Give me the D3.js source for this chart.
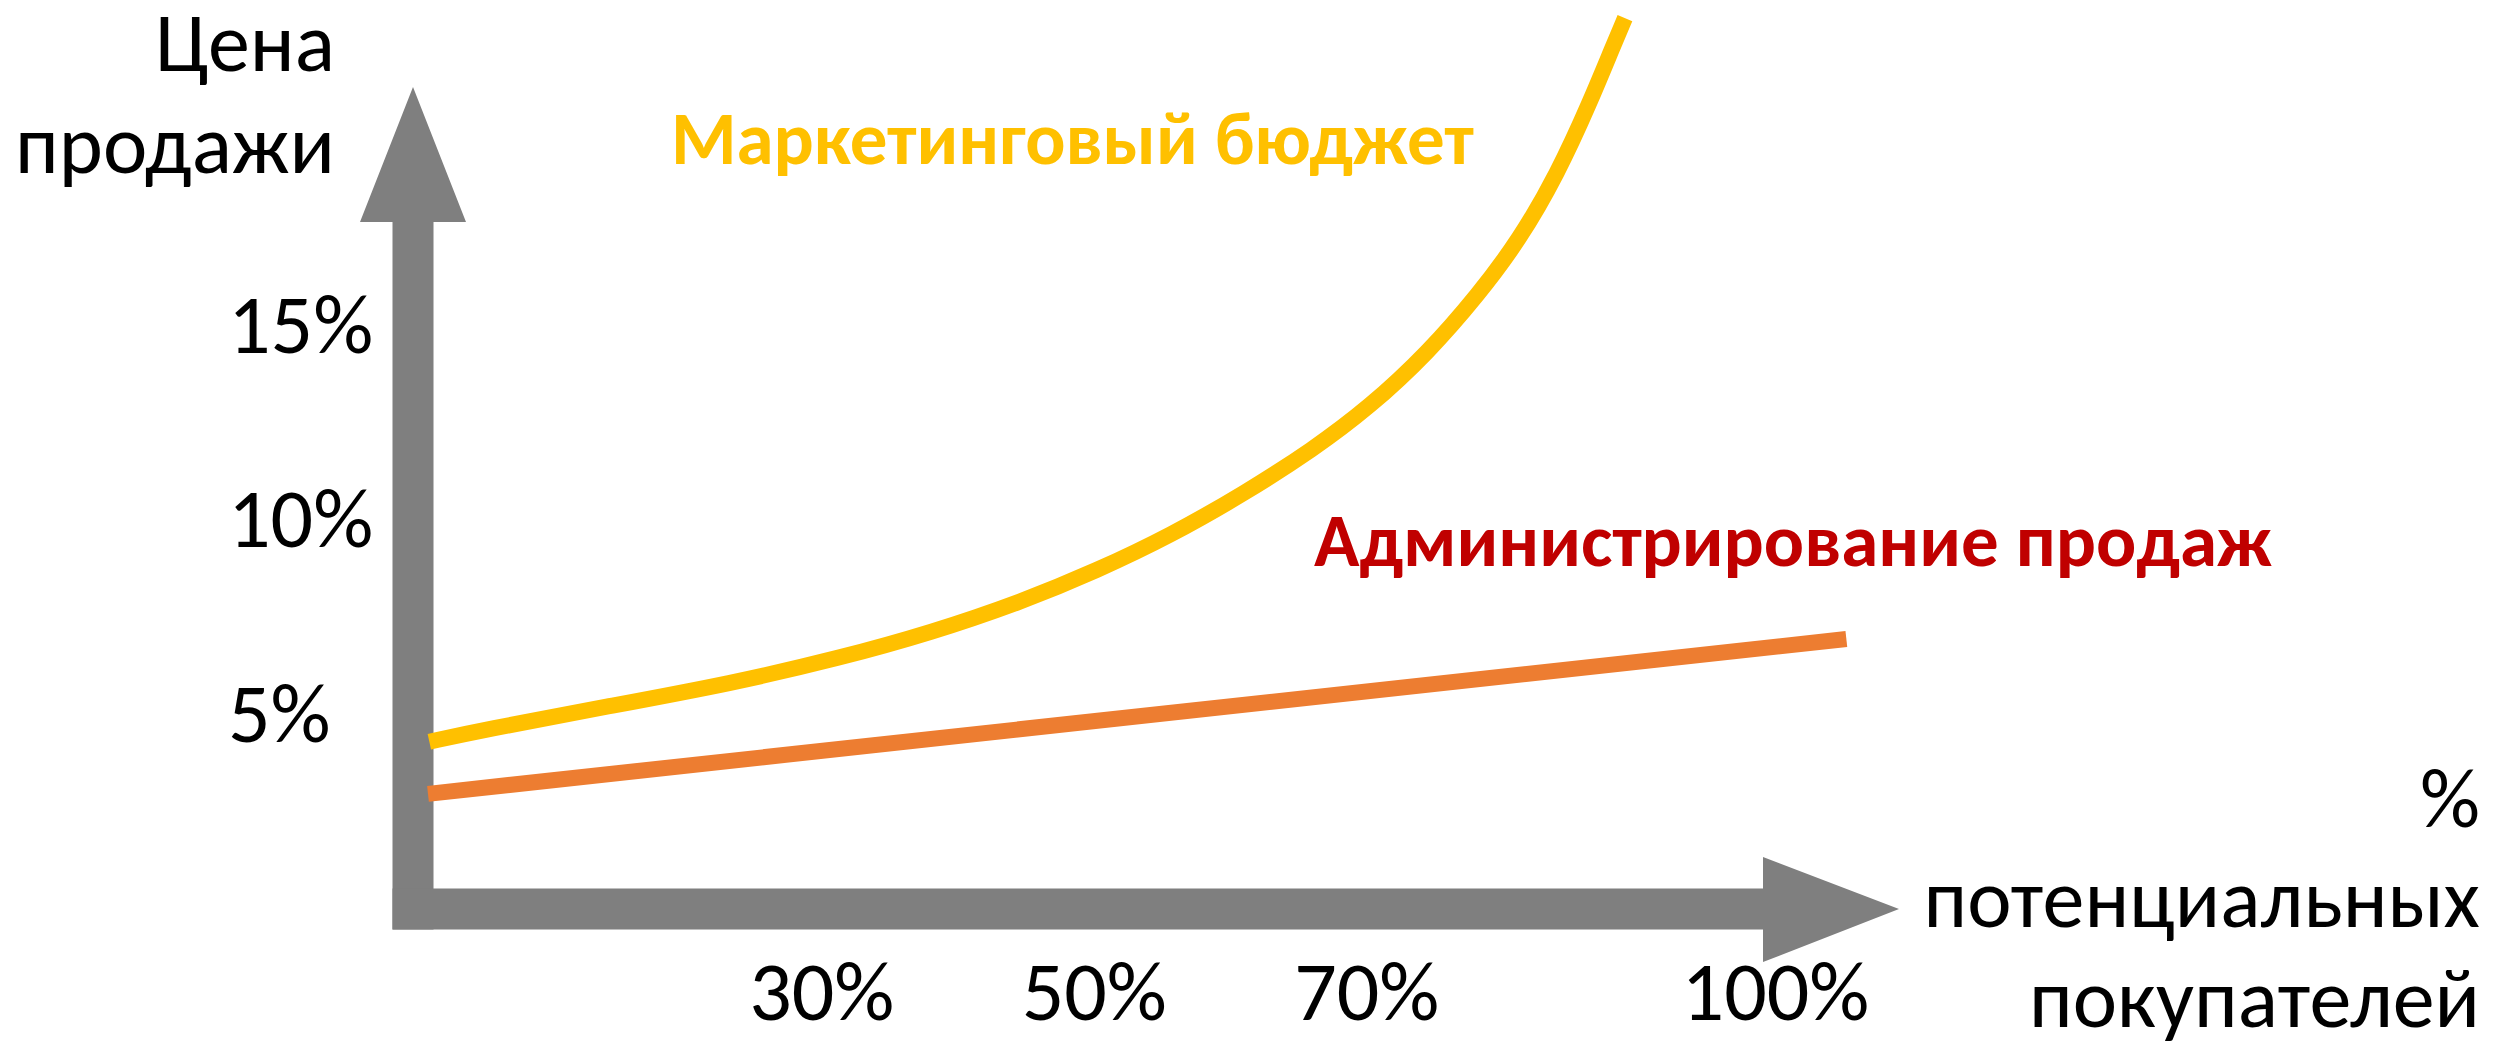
<!DOCTYPE html>
<html>
<head>
<meta charset="utf-8">
<script src="https://cdn.jsdelivr.net/npm/d3@7"></script>
<style>
  body { margin: 0; background: #fff; }
  text { font-family: Carlito, "Open Sans", Lato, sans-serif; }
</style>
</head>
<body>
<svg width="2499" height="1044"></svg>
<script>
const yTicks = [5, 10, 15];
const xTicks = [30, 50, 70, 100];

// маркетинговый бюджет, % цены продажи
const marketingX = [1.2, 5.1, 14.2, 23.4, 31.3, 38.0, 44.7, 50.2, 55.6, 61.1, 66.0, 70.2, 74.5, 78.2, 81.2, 84.0, 86.4, 88.1, 88.95];
const marketingY = [4.3, 4.6, 5.2, 5.8, 6.45, 7.1, 7.9, 8.7, 9.6, 10.7, 11.8, 12.9, 14.3, 15.8, 17.2, 18.9, 20.75, 22.2, 22.9];

// администрирование продаж
const adminX = [1.1, 105.2];
const adminY = [2.96, 6.94];

const yTitle = ["Цена", "продажи"];
const xTitle = ["%", "потенциальных", "покупателей"];
const marketingLabel = "Маркетинговый бюджет";
const adminLabel = "Администрирование продаж";

const svg = d3.select("svg");

const xScale = d3.scaleLinear().domain([0, 100]).range([413, 1775.5]);
const yScale = d3.scaleLinear().domain([0, 20]).range([909, 131]);

const grey = "#7f7f7f",
  shaft = 20.5,
  x0 = xScale(0),
  y0 = yScale(0);

// вертикальная стрелка
svg.append("path")
  .attr("fill", grey)
  .attr("d", `M${x0 - shaft},${y0 + shaft} L${x0 - shaft},222 L${x0 - 53},222 L${x0},87 L${x0 + 53},222 L${x0 + shaft},222 L${x0 + shaft},${y0 + shaft} Z`);

// горизонтальная стрелка
svg.append("path")
  .attr("fill", grey)
  .attr("d", `M${x0 - shaft},${y0 - shaft} L1763,${y0 - shaft} L1763,${y0 - 52} L1899,${y0} L1763,${y0 + 53} L1763,${y0 + shaft} L${x0 - shaft},${y0 + shaft} Z`);

const line = d3.line()
  .x(d => xScale(d[0]))
  .y(d => yScale(d[1]));

svg.append("path")
  .datum(adminX.map((x, i) => [x, adminY[i]]))
  .attr("fill", "none")
  .attr("stroke", "#ed7d31")
  .attr("stroke-width", 16)
  .attr("d", line);

svg.append("path")
  .datum(marketingX.map((x, i) => [x, marketingY[i]]))
  .attr("fill", "none")
  .attr("stroke", "#ffc000")
  .attr("stroke-width", 16)
  .attr("d", line.curve(d3.curveBasis));

// подписи делений
svg.selectAll(".ytick")
  .data(yTicks)
  .enter()
  .append("text")
  .attr("class", "ytick")
  .attr("x", 228)
  .attr("y", d => yScale(d) + 27)
  .attr("font-size", 84)
  .text(d => `${d}%`);

svg.selectAll(".xtick")
  .data(xTicks)
  .enter()
  .append("text")
  .attr("class", "xtick")
  .attr("x", d => xScale(d))
  .attr("y", 1020)
  .attr("text-anchor", "middle")
  .attr("font-size", 84)
  .text(d => `${d}%`);

// названия осей
svg.selectAll(".ytitle")
  .data(yTitle)
  .enter()
  .append("text")
  .attr("class", "ytitle")
  .attr("x", 335)
  .attr("y", (d, i) => 71 + i * 102)
  .attr("text-anchor", "end")
  .attr("font-size", 84)
  .text(d => d);

svg.selectAll(".xtitle")
  .data(xTitle)
  .enter()
  .append("text")
  .attr("class", "xtitle")
  .attr("x", 2480)
  .attr("y", (d, i) => 827 + i * 100)
  .attr("text-anchor", "end")
  .attr("font-size", 84)
  .text(d => d);

svg.append("text")
  .attr("x", 671)
  .attr("y", 164)
  .attr("font-size", 75)
  .attr("font-weight", "bold")
  .attr("fill", "#ffc000")
  .text(marketingLabel);

svg.append("text")
  .attr("x", 1314)
  .attr("y", 566)
  .attr("font-size", 75)
  .attr("font-weight", "bold")
  .attr("fill", "#c00000")
  .text(adminLabel);
</script>
</body>
</html>
